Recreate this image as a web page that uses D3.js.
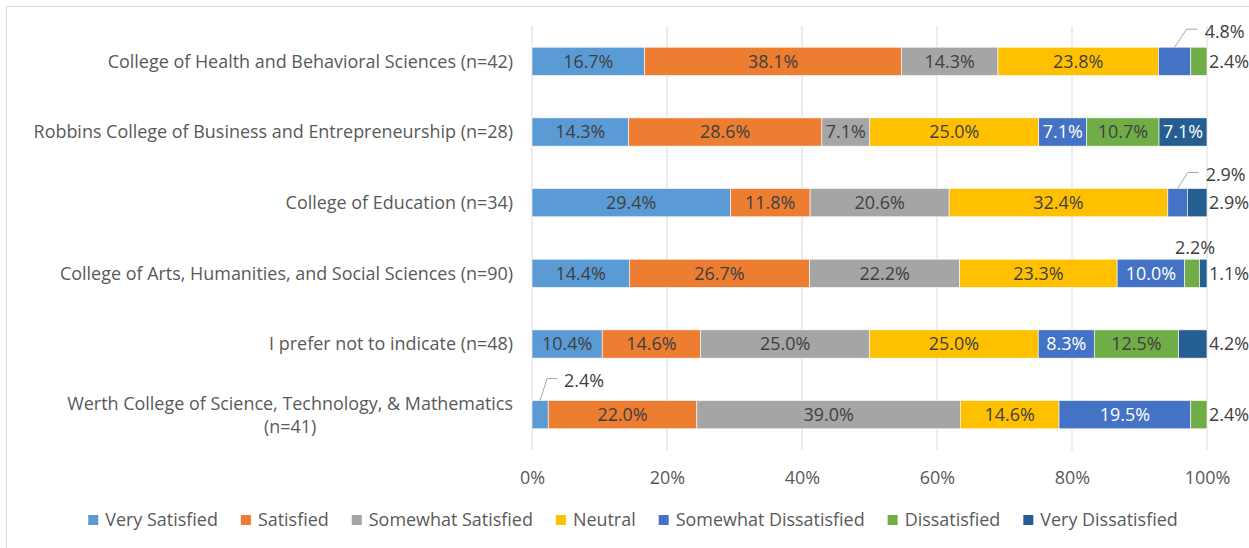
<!DOCTYPE html>
<html><head><meta charset="utf-8">
<script src="https://cdn.jsdelivr.net/npm/d3@7"></script>
<style>body{margin:0;background:#fff}svg{display:block}</style>
</head><body><svg id="c" width="1249" height="548"></svg>
<script>
const categories = [
  "College of Health and Behavioral Sciences (n=42)",
  "Robbins College of Business and Entrepreneurship (n=28)",
  "College of Education (n=34)",
  "College of Arts, Humanities, and Social Sciences (n=90)",
  "I prefer not to indicate (n=48)",
  "Werth College of Science, Technology, & Mathematics (n=41)"
];
const seriesNames = ["Very Satisfied","Satisfied","Somewhat Satisfied","Neutral","Somewhat Dissatisfied","Dissatisfied","Very Dissatisfied"];
const verySatisfied        = [16.7, 14.3, 29.4, 14.4, 10.4, 2.4];
const satisfied            = [38.1, 28.6, 11.8, 26.7, 14.6, 22.0];
const somewhatSatisfied    = [14.3,  7.1, 20.6, 22.2, 25.0, 39.0];
const neutral              = [23.8, 25.0, 32.4, 23.3, 25.0, 14.6];
const somewhatDissatisfied = [ 4.8,  7.1,  2.9, 10.0,  8.3, 19.5];
const dissatisfied         = [ 2.4, 10.7,  0,    2.2, 12.5,  2.4];
const veryDissatisfied     = [ 0,    7.1,  2.9,  1.1,  4.2,  0];
const xTicks = [0, 0.2, 0.4, 0.6, 0.8, 1];

const seriesValues = [verySatisfied, satisfied, somewhatSatisfied, neutral, somewhatDissatisfied, dissatisfied, veryDissatisfied];
const colors = ["#5B9BD5","#ED7D31","#A5A5A5","#FFC000","#4472C4","#70AD47","#255E91"];
const labelColors = ["#404040","#404040","#404040","#404040","#ffffff","#404040","#ffffff"];

// label placement for small segments (row index, series index)
const rightLabels = [[0,5],[2,6],[3,6],[4,6],[5,5]];
const calloutLabels = [
  {row:0, s:4, dx1:12, dy:18, dx2:23},
  {row:2, s:4, dx1:10, dy:16, dx2:21},
  {row:5, s:0, dx1:7,  dy:22, dx2:17}
];
const aboveLabels = [{row:3, s:5, dx:3, dy:12}];

const FONT = "'Open Sans', Lato, sans-serif";
const svg = d3.select("#c");

// measure to approximate Calibri metrics
const probe = svg.append("text").attr("font-family", FONT).attr("font-size", 16).text(categories[1]);
const w0 = probe.node().getComputedTextLength();
probe.remove();
const FS = Math.max(13, Math.min(20, 16 * 480 / w0));

svg.append("rect").attr("x",6.5).attr("y",6.5).attr("width",1260).attr("height",560)
  .attr("fill","#fff").attr("stroke","#d9d9d9").attr("stroke-width",1);

const x = d3.scaleLinear().domain([0,1]).range([532,1207]);
const y = d3.scaleBand().domain(categories).range([26,450]).paddingInner(0.6).paddingOuter(0.3);

svg.append("g").selectAll("line").data(xTicks).join("line")
  .attr("x1", d=>x(d)).attr("x2", d=>x(d)).attr("y1",26).attr("y2",450)
  .attr("stroke","#d9d9d9").attr("stroke-width",1);

const rows = categories.map((c,i)=>{
  const vals = seriesValues.map(a=>a[i]);
  const tot = d3.sum(vals);
  const o = {cat:c};
  seriesNames.forEach((s,j)=>{o[s]=vals[j]/tot;});
  o.raw = vals;
  return o;
});
const stacked = d3.stack().keys(seriesNames)(rows);

const segs = [];
stacked.forEach((layer,j)=>{
  layer.forEach((d,i)=>{
    segs.push({row:i, s:j, x0:d[0], x1:d[1], v:rows[i].raw[j], cat:rows[i].cat});
  });
});

svg.append("g").selectAll("rect").data(segs.filter(d=>d.v>0)).join("rect")
  .attr("x", d=>x(d.x0)).attr("width", d=>x(d.x1)-x(d.x0))
  .attr("y", d=>y(d.cat)).attr("height", y.bandwidth())
  .attr("fill", d=>colors[d.s]).attr("stroke","#fff").attr("stroke-width",0.6);

const fmt = v => v.toFixed(1) + "%";
const isIn = (list, d) => list.some(p => p[0]===d.row && p[1]===d.s);
const isCall = d => calloutLabels.some(p=>p.row===d.row && p.s===d.s);
const isAbove = d => aboveLabels.some(p=>p.row===d.row && p.s===d.s);

const lbl = svg.append("g").attr("font-family", FONT).attr("font-size", FS);
lbl.selectAll("text.in").data(segs.filter(d=>d.v>0 && !isIn(rightLabels,d) && !isCall(d) && !isAbove(d))).join("text")
  .attr("class","in")
  .attr("x", d=>(x(d.x0)+x(d.x1))/2).attr("y", d=>y(d.cat)+y.bandwidth()/2)
  .attr("dy","0.36em").attr("text-anchor","middle")
  .attr("fill", d=>labelColors[d.s]).text(d=>fmt(d.v));
lbl.selectAll("text.rt").data(segs.filter(d=>d.v>0 && isIn(rightLabels,d))).join("text")
  .attr("class","rt")
  .attr("x", x(1)+2).attr("y", d=>y(d.cat)+y.bandwidth()/2)
  .attr("dy","0.36em").attr("fill","#404040").text(d=>fmt(d.v));
calloutLabels.forEach(c=>{
  const d = segs.find(s=>s.row===c.row && s.s===c.s);
  const cx = (x(d.x0)+x(d.x1))/2, top = y(d.cat);
  svg.append("path")
    .attr("d", `M${cx},${top} L${cx+c.dx1},${top-c.dy} L${cx+c.dx2},${top-c.dy}`)
    .attr("fill","none").attr("stroke","#a6a6a6").attr("stroke-width",1);
  lbl.append("text").attr("x", cx+c.dx2+7).attr("y", top-c.dy+2).attr("dy","0.36em")
    .attr("fill","#404040").text(fmt(d.v));
});
aboveLabels.forEach(c=>{
  const d = segs.find(s=>s.row===c.row && s.s===c.s);
  const cx = (x(d.x0)+x(d.x1))/2, top = y(d.cat);
  lbl.append("text").attr("x", cx+c.dx).attr("y", top-c.dy).attr("dy","0.36em")
    .attr("text-anchor","middle").attr("fill","#404040").text(fmt(d.v));
});

const catG = svg.append("g").attr("font-family", FONT).attr("font-size", FS).attr("fill","#595959");
categories.forEach(c=>{
  const cy = y(c)+y.bandwidth()/2;
  const t = catG.append("text").attr("text-anchor","middle");
  const words = c.split(" ");
  const lines = [];
  let cur = [];
  const tmp = catG.append("text");
  words.forEach(wd=>{
    const test = cur.concat([wd]).join(" ");
    tmp.text(test);
    if (tmp.node().getComputedTextLength() > 492 && cur.length) { lines.push(cur.join(" ")); cur=[wd]; }
    else cur.push(wd);
  });
  lines.push(cur.join(" "));
  let maxW = 0;
  lines.forEach(l=>{ tmp.text(l); maxW = Math.max(maxW, tmp.node().getComputedTextLength()); });
  tmp.remove();
  const lh = 23;
  const centerX = 513 - maxW/2;
  lines.forEach((l,k)=>{
    t.append("tspan").attr("x", centerX).attr("y", cy + (k - (lines.length-1)/2)*lh).attr("dy","0.36em").text(l);
  });
});

const ax = svg.append("g").attr("transform","translate(0,450)")
  .call(d3.axisBottom(x).tickValues(xTicks).tickFormat(d3.format(".0%")).tickSize(0));
ax.select(".domain").remove();
ax.selectAll("text").attr("y",28).attr("dy","0.36em").attr("font-family",FONT).attr("font-size",FS).attr("fill","#595959");

const leg = svg.append("g").attr("font-family",FONT).attr("font-size",FS).attr("fill","#595959");
let lx = 0;
seriesNames.forEach((s,j)=>{
  const g = leg.append("g");
  g.append("rect").attr("x",lx).attr("y",520-5).attr("width",10).attr("height",10).attr("fill",colors[j]);
  const tx = g.append("text").attr("x",lx+17).attr("y",520).attr("dy","0.36em").text(s);
  lx += 17 + tx.node().getComputedTextLength() + 23;
});
const legW = lx - 23;
leg.attr("transform", `translate(${633 - legW/2},0)`);
</script></body></html>
